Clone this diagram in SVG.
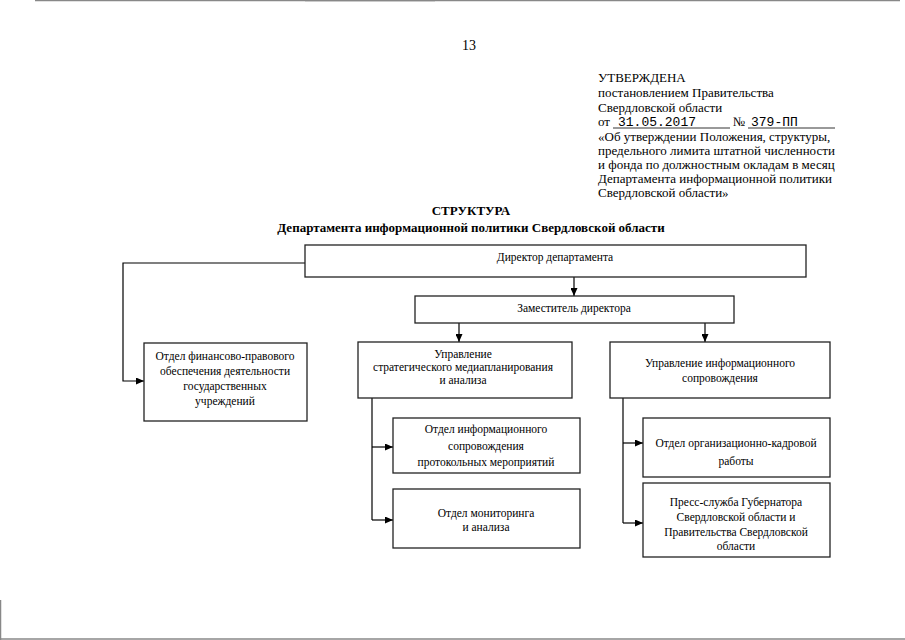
<svg xmlns="http://www.w3.org/2000/svg" width="905" height="640" viewBox="0 0 905 640">
<style>
.hd{font-family:"Liberation Serif","Times New Roman",serif;font-size:13px;fill:#000}
.mono{font-family:"Liberation Mono","Courier New",monospace;font-size:13px;fill:#000}
.ttl{font-family:"Liberation Serif","Times New Roman",serif;font-size:13px;font-weight:bold;fill:#000;text-anchor:middle}
.bx{fill:#fff;stroke:#222;stroke-width:1.3}
.t{font-family:"Liberation Serif","Times New Roman",serif;font-size:11.5px;fill:#000;text-anchor:middle}
.c{fill:none;stroke:#000;stroke-width:1.2}
.ul{stroke:#000;stroke-width:0.8}
.scan{stroke:#888;stroke-width:1.5}
</style>
<defs>
<marker id="ah" markerWidth="8" markerHeight="7" refX="8" refY="3.5" orient="auto" markerUnits="userSpaceOnUse">
<path d="M0,0 L8,3.5 L0,7 z" fill="#000"/>
</marker>
</defs>
<rect width="905" height="640" fill="#fff"/>
<g id="scan-edges">
<line class="scan" x1="35" y1="0.5" x2="435" y2="0.5"/>
<line class="scan" x1="305" y1="0.5" x2="900" y2="0.5"/>
<line class="scan" x1="0" y1="639" x2="905" y2="639"/>
<line class="scan" x1="0.5" y1="600" x2="0.5" y2="640"/>
</g>
<text class="hd" x="462" y="50" style="font-size:14px">13</text>
<g id="header">
<text class="hd" x="598" y="82">УТВЕРЖДЕНА</text>
<text class="hd" x="598" y="97">постановлением Правительства</text>
<text class="hd" x="598" y="112">Свердловской области</text>
<text class="hd" x="598" y="126">от</text>
<text class="mono" x="618" y="126">31.05.2017</text>
<line class="ul" x1="613" y1="128" x2="730" y2="128"/>
<text class="hd" x="733" y="126">№</text>
<text class="mono" x="751" y="126">379-ПП</text>
<line class="ul" x1="748" y1="128" x2="835" y2="128"/>
<text class="hd" x="598" y="141">«Об утверждении Положения, структуры,</text>
<text class="hd" x="598" y="155">предельного лимита штатной численности</text>
<text class="hd" x="598" y="169">и фонда по должностным окладам в месяц</text>
<text class="hd" x="598" y="183">Департамента информационной политики</text>
<text class="hd" x="598" y="197">Свердловской области»</text>
</g>
<g id="title">
<text class="ttl" x="471" y="215">СТРУКТУРА</text>
<text class="ttl" x="471" y="232">Департамента информационной политики Свердловской области</text>
</g>
<g id="connectors">
<polyline class="c" points="305,263 123,263 123,381 144,381" marker-end="url(#ah)"/>
<line class="c" x1="574" y1="277" x2="574" y2="296" marker-end="url(#ah)"/>
<line class="c" x1="459" y1="323" x2="459" y2="342" marker-end="url(#ah)"/>
<line class="c" x1="705" y1="323" x2="705" y2="342" marker-end="url(#ah)"/>
<line class="c" x1="372" y1="398" x2="372" y2="520"/>
<line class="c" x1="372" y1="447" x2="393" y2="447" marker-end="url(#ah)"/>
<line class="c" x1="372" y1="520" x2="393" y2="520" marker-end="url(#ah)"/>
<line class="c" x1="623" y1="398" x2="623" y2="523"/>
<line class="c" x1="623" y1="443" x2="643" y2="443" marker-end="url(#ah)"/>
<line class="c" x1="623" y1="523" x2="643" y2="523" marker-end="url(#ah)"/>
</g>
<g id="director">
<rect class="bx" x="305" y="245" width="501" height="32"/>
<text class="t" x="555" y="261">Директор департамента</text>
</g>
<g id="deputy">
<rect class="bx" x="415" y="296" width="319" height="27"/>
<text class="t" x="574" y="312">Заместитель директора</text>
</g>
<g id="finance">
<rect class="bx" x="144" y="343" width="163" height="78"/>
<text class="t" x="225" y="360">Отдел финансово-правового</text>
<text class="t" x="225" y="375">обеспечения деятельности</text>
<text class="t" x="225" y="390">государственных</text>
<text class="t" x="225" y="405">учреждений</text>
</g>
<g id="strategy">
<rect class="bx" x="358" y="342" width="214" height="56"/>
<text class="t" x="463" y="358">Управление</text>
<text class="t" x="463" y="371">стратегического медиапланирования</text>
<text class="t" x="463" y="384">и анализа</text>
</g>
<g id="protocol">
<rect class="bx" x="393" y="418" width="187" height="55"/>
<text class="t" x="486" y="433">Отдел информационного</text>
<text class="t" x="486" y="450">сопровождения</text>
<text class="t" x="486" y="466">протокольных мероприятий</text>
</g>
<g id="monitoring">
<rect class="bx" x="393" y="489" width="187" height="59"/>
<text class="t" x="486" y="517">Отдел мониторинга</text>
<text class="t" x="486" y="531">и анализа</text>
</g>
<g id="info">
<rect class="bx" x="610" y="342" width="220" height="56"/>
<text class="t" x="720" y="367">Управление информационного</text>
<text class="t" x="720" y="382">сопровождения</text>
</g>
<g id="hr">
<rect class="bx" x="643" y="418" width="187" height="59"/>
<text class="t" x="736" y="447">Отдел организационно-кадровой</text>
<text class="t" x="736" y="465">работы</text>
</g>
<g id="press">
<rect class="bx" x="643" y="483" width="187" height="74"/>
<text class="t" x="736" y="506">Пресс-служба Губернатора</text>
<text class="t" x="736" y="521">Свердловской области и</text>
<text class="t" x="736" y="536">Правительства Свердловской</text>
<text class="t" x="736" y="550">области</text>
</g>
</svg>
